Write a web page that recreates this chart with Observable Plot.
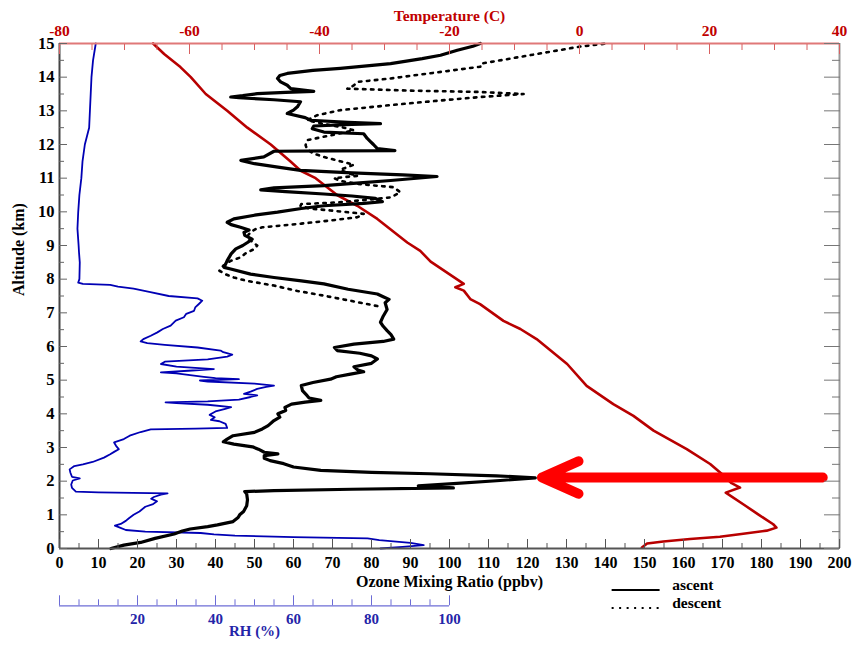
<!DOCTYPE html>
<html><head><meta charset="utf-8">
<script src="https://cdn.jsdelivr.net/npm/d3@7"></script>
<script src="https://cdn.jsdelivr.net/npm/@observablehq/plot@0.6"></script>
<style>body{margin:0;background:#fff} #chart svg{display:block}</style>
</head><body><div id="chart"></div>
<script>
// [altitude km, ozone ppbv] — ascent (solid)
const ascent = [[0.0,13.2],[0.1,16.5],[0.18,20.8],[0.3,24.5],[0.43,29.4],[0.52,31.5],[0.58,33.5],[0.65,38],[0.7,40.5],[0.8,44.5],[0.92,45.8],[1.0,46.2],[1.1,47.2],[1.27,48],[1.45,48.2],[1.62,48],[1.69,47.5],[1.72,55],[1.76,75],[1.80,101],[1.86,92],[1.92,100],[2.02,113],[2.10,122],[2.16,112],[2.22,95],[2.26,80],[2.32,67],[2.42,60],[2.52,57.5],[2.61,54],[2.68,52.5],[2.76,52.5],[2.81,56],[2.86,52.5],[2.95,51],[3.02,49.5],[3.1,44.7],[3.17,42],[3.25,43],[3.35,44.5],[3.45,50],[3.55,52],[3.65,53.5],[3.8,55],[3.9,56.5],[4.0,56],[4.1,58],[4.19,57.8],[4.29,59.5],[4.35,63],[4.40,67],[4.47,64],[4.54,63.5],[4.69,62.3],[4.84,62],[4.93,65],[5.03,69.5],[5.1,71],[5.18,74.6],[5.25,78],[5.3,76.5],[5.4,75.5],[5.5,80],[5.63,81.5],[5.72,80],[5.8,77],[5.88,71.2],[5.97,70.5],[6.07,75.5],[6.15,83],[6.22,85.7],[6.35,85],[6.47,84],[6.6,83],[6.72,82.3],[6.9,83],[7.1,84],[7.3,83.5],[7.4,84.5],[7.48,83],[7.56,81.5],[7.7,74],[7.86,67.8],[7.95,62],[8.05,55],[8.15,49],[8.3,43.9],[8.35,42.2],[8.55,43],[8.75,44],[8.9,45.2],[9.0,47],[9.09,48.2],[9.19,49.4],[9.3,47.5],[9.39,47.3],[9.46,48.6],[9.54,46.4],[9.62,44],[9.69,43],[9.79,44.7],[9.9,50],[9.99,55.9],[10.1,62],[10.18,67.8],[10.25,78],[10.3,82.8],[10.4,81],[10.47,75],[10.53,67.8],[10.6,58],[10.65,51.6],[10.71,55],[10.78,67.8],[10.86,77],[10.93,84.9],[11.05,96.8],[11.1,88],[11.16,75],[11.23,61.8],[11.33,56],[11.43,50],[11.53,46.5],[11.63,52.4],[11.8,55],[11.81,70],[11.82,86],[11.88,81.5],[12.0,80.5],[12.08,79.8],[12.18,78.9],[12.32,78],[12.37,67.8],[12.47,64.8],[12.55,65.2],[12.6,75],[12.62,82.3],[12.66,74],[12.72,64.4],[12.8,63],[12.92,58.4],[13.02,60],[13.12,61],[13.27,61.8],[13.33,55],[13.39,46],[13.41,43.9],[13.45,47],[13.51,50.7],[13.55,58],[13.58,65.2],[13.62,62],[13.66,59.3],[13.76,58.4],[13.86,56.7],[13.96,55.9],[14.05,56.5],[14.11,58.4],[14.2,65],[14.26,72],[14.4,84.9],[14.55,93],[14.65,97.7],[14.8,102],[14.92,106],[15.0,107.9]];

// [altitude km, ozone ppbv] — descent (dotted)
const descent = [[7.2,81.5],[7.35,75],[7.51,67.8],[7.65,61],[7.81,55],[7.95,48],[8.05,44.7],[8.15,42.5],[8.25,41],[8.4,42],[8.55,44],[8.65,46.5],[8.75,47.5],[8.9,50],[9.0,50.7],[9.1,49.5],[9.25,48],[9.4,49],[9.49,50.3],[9.54,52],[9.65,62],[9.75,70],[9.84,76.4],[9.94,78],[10.04,69.5],[10.1,64],[10.18,61.8],[10.23,62],[10.28,71.2],[10.36,79],[10.43,84.9],[10.58,87.4],[10.73,85.7],[10.83,76.4],[10.92,72],[11.0,70.4],[11.07,76.4],[11.15,74],[11.25,72],[11.4,75.5],[11.5,72],[11.63,67.8],[11.73,65.2],[11.85,63.5],[11.98,63.1],[12.13,63.5],[12.27,69.5],[12.42,75.5],[12.5,73],[12.57,69.5],[12.72,63.5],[12.87,66.1],[13.02,72],[13.17,84.9],[13.3,97],[13.41,107.9],[13.5,119],[13.56,108],[13.6,90],[13.66,73.8],[13.72,75],[13.76,75.5],[13.86,76.4],[13.96,84.9],[14.0,87.4],[14.31,107.9],[14.4,108],[14.6,118],[14.74,125],[14.91,133.6],[15.0,140.4]];

// [altitude km, relative humidity %]
const rh = [[0.0,82.3],[0.05,88],[0.1,93.4],[0.17,90],[0.25,82],[0.3,79],[0.34,60],[0.38,45],[0.42,39.6],[0.46,36.2],[0.5,22],[0.55,17],[0.62,15.5],[0.68,14.2],[0.73,15.7],[0.82,17],[0.9,17.8],[1.0,19],[1.1,20.5],[1.24,22],[1.32,24],[1.4,25],[1.48,23.5],[1.53,24.2],[1.6,26],[1.64,27.7],[1.67,10],[1.69,4.2],[1.8,3.2],[1.9,3.0],[2.02,3.4],[2.08,5.2],[2.13,3.2],[2.25,2.8],[2.35,2.6],[2.45,3.8],[2.5,6],[2.57,8.5],[2.7,11.4],[2.8,13],[2.87,14],[2.95,15.2],[3.05,14.5],[3.15,14],[3.25,16.5],[3.35,18],[3.46,20.8],[3.54,23.4],[3.56,35],[3.58,43],[3.7,42.6],[3.78,41],[3.82,38.8],[3.9,39.8],[3.97,38.5],[4.07,40],[4.15,42.5],[4.2,44],[4.27,38],[4.32,30],[4.34,27.2],[4.37,38],[4.42,46],[4.5,49],[4.55,50.7],[4.59,47.3],[4.66,49],[4.74,50.7],[4.8,53],[4.84,55],[4.9,50],[4.96,38],[4.99,36],[5.03,46],[5.06,40],[5.1,37],[5.2,30],[5.23,26],[5.28,33],[5.33,39.6],[5.4,30],[5.48,26],[5.55,27],[5.62,38],[5.7,43],[5.76,44.3],[5.83,42],[5.88,41.3],[5.97,35.4],[6.05,27],[6.1,22.5],[6.15,20.8],[6.22,21.5],[6.32,23.4],[6.42,25.1],[6.52,26.5],[6.62,28.5],[6.77,29.8],[6.87,31.9],[6.97,32.5],[7.06,34.5],[7.16,34.8],[7.27,35.8],[7.36,36.6],[7.43,35.4],[7.5,28],[7.62,23],[7.72,19],[7.78,15],[7.83,13],[7.86,6],[7.9,4.8],[8.0,5.1],[8.5,5.2],[8.8,5.0],[9.0,4.9],[9.5,4.6],[10.0,4.8],[10.5,5.1],[11.0,5.6],[11.5,5.9],[12.0,6.5],[12.5,7.6],[13.0,7.8],[13.5,8.0],[14.0,8.2],[14.5,8.6],[15.0,9.3]];

// [altitude km, temperature C]
const temperature = [[0.03,9.6],[0.15,10.4],[0.21,12.9],[0.28,17],[0.35,21.6],[0.43,24.9],[0.53,28.8],[0.62,30.3],[0.72,29.8],[1.0,27.6],[1.3,25.3],[1.66,22.5],[1.81,24.7],[1.94,23.4],[2.21,21.9],[2.51,20.1],[2.95,16.5],[3.5,11.4],[3.94,8.3],[4.29,5.2],[4.83,1.1],[5.48,-1.9],[6.22,-6.6],[6.52,-9.1],[6.76,-11.7],[7.26,-15.3],[7.41,-16.8],[7.66,-17.8],[7.76,-19.1],[7.86,-17.8],[8.52,-22.9],[8.84,-24.5],[9.09,-26.5],[9.79,-31.1],[10.18,-34.2],[10.5,-37.3],[11.0,-40.6],[11.22,-42.9],[11.5,-44.5],[12.0,-47.5],[12.5,-51.1],[13.0,-54.2],[13.5,-57.5],[14.0,-59.8],[14.3,-61.4],[14.69,-63.9],[15.0,-65.6]];

// annotation arrow: [from ozone, to ozone, altitude]
const arrowSpec = [{from: 195.7, to: 123.7, alt: 2.11}];

const ozoneTicks = d3.range(0, 201, 10);
const ozoneMinor = d3.range(5, 200, 10);
const altTicks = d3.range(0, 16, 1);
const altMinor = d3.range(0.5, 15, 1);
const tempTicks = [-80, -60, -40, -20, 0, 20, 40];
const tempMinor = d3.range(-75, 40, 5).filter(t => t % 20 !== 0);
const rhLabels = [20, 40, 60, 80, 100];
const rhMajor = [0, 20, 40, 60, 80, 100];
const rhMinor = d3.range(5, 100, 5).filter(v => v % 20 !== 0);

const tempToX = t => (t + 80) * 200 / 120;
const xToTemp = x => Math.round(x * 120 / 200 - 80);

const FONT = "Liberation Serif, Times New Roman, serif";
const RED = "#c00000";
const BLUE = "#0000b4";
const RHAXIS = "#6c6cd6";
const RHOFF = 57.3;

const chart = Plot.plot({
  width: 856,
  height: 646,
  marginTop: 43,
  marginLeft: 59,
  marginRight: 17,
  marginBottom: 98,
  style: {fontFamily: FONT, fontWeight: "bold", background: "#fff"},
  x: {domain: [0, 200], label: null},
  y: {domain: [0, 15], label: null},
  marks: [
    // data
    Plot.line(rh, {x: d => d[1], y: d => d[0], stroke: BLUE, strokeWidth: 1.8}),
    Plot.line(temperature, {x: d => tempToX(d[1]), y: d => d[0], stroke: "#b80000", strokeWidth: 2.6}),
    Plot.line(descent, {x: d => d[1], y: d => d[0], stroke: "black", strokeWidth: 2.6, strokeDasharray: "2.5,5.5"}),
    Plot.line(ascent, {x: d => d[1], y: d => d[0], stroke: "black", strokeWidth: 3.2}),
    Plot.arrow(arrowSpec, {x1: d => d.from, x2: d => d.to, y1: d => d.alt, y2: d => d.alt, stroke: "#ff0000", strokeWidth: 10, headLength: 6, headAngle: 48}),

    // frame
    Plot.ruleX([0], {stroke: "#444", strokeWidth: 2}),
    Plot.ruleX([200], {stroke: "#999", strokeWidth: 2}),
    Plot.ruleY([0], {stroke: "#555", strokeWidth: 2}),
    Plot.ruleY([15], {stroke: "#e07878", strokeWidth: 2}),

    // bottom ozone axis
    Plot.axisX(ozoneTicks, {anchor: "bottom", tickSize: -9, tickFormat: () => "", stroke: "#555", label: null}),
    Plot.axisX(ozoneMinor, {anchor: "bottom", tickSize: -5, tickFormat: () => "", stroke: "#555", label: null}),
    Plot.axisX(ozoneTicks, {anchor: "bottom", tickSize: 0, tickPadding: 8, fontSize: 16, fontWeight: "bold", color: "black", label: null}),
    Plot.text(["Ozone Mixing Ratio (ppbv)"], {text: d => d, frameAnchor: "bottom", dy: 38, fontSize: 16, fontWeight: "bold", fill: "black"}),

    // top temperature axis
    Plot.axisX(tempTicks.map(tempToX), {anchor: "top", tickSize: -10, tickFormat: () => "", stroke: "#d86060", label: null}),
    Plot.axisX(tempMinor.map(tempToX), {anchor: "top", tickSize: -6, tickFormat: () => "", stroke: "#d86060", label: null}),
    Plot.axisX(tempTicks.map(tempToX), {anchor: "top", tickSize: 0, tickPadding: 7.5, tickFormat: x => String(xToTemp(x)), fontSize: 15.5, fontWeight: "bold", color: RED, label: null}),
    Plot.text(["Temperature (C)"], {text: d => d, frameAnchor: "top", dy: -34, fontSize: 15.5, fontWeight: "bold", fill: RED}),

    // left altitude axis
    Plot.axisY(altTicks, {anchor: "left", tickSize: -8, tickFormat: () => "", stroke: "#666", label: null}),
    Plot.axisY(altMinor, {anchor: "left", tickSize: -5, tickFormat: () => "", stroke: "#666", label: null}),
    Plot.axisY(altTicks, {anchor: "left", tickSize: 0, tickPadding: 5, fontSize: 16.5, fontWeight: "bold", color: "black", label: null}),
    Plot.text(["Altitude (km)"], {text: d => d, frameAnchor: "left", rotate: -90, dx: -41, fontSize: 16, fontWeight: "bold", fill: "black"}),

    // right axis ticks
    Plot.axisY(altTicks, {anchor: "right", tickSize: -16, tickFormat: () => "", stroke: "#777", label: null}),
    Plot.axisY(altMinor, {anchor: "right", tickSize: -8, tickFormat: () => "", stroke: "#777", label: null}),

    // RH axis below
    Plot.ruleY([0], {x1: 0, x2: 100, dy: RHOFF, stroke: RHAXIS, strokeWidth: 1.2}),
    Plot.axisX(rhMajor, {anchor: "bottom", dy: RHOFF, tickSize: -10, tickFormat: () => "", stroke: RHAXIS, label: null}),
    Plot.axisX(rhMinor, {anchor: "bottom", dy: RHOFF, tickSize: -6, tickFormat: () => "", stroke: RHAXIS, label: null}),
    Plot.axisX(rhLabels, {anchor: "bottom", dy: RHOFF, tickSize: 0, tickPadding: 8, fontSize: 15, fontWeight: "bold", color: "#2424a8", label: null}),
    Plot.text(["RH (%)"], {text: d => d, x: 50, frameAnchor: "bottom", dy: 87.3, fontSize: 15, fontWeight: "bold", fill: "#2424a8"}),

    // legend
    Plot.ruleY([0], {x1: 141.7, x2: 154, dy: 41.6, stroke: "black", strokeWidth: 2}),
    Plot.ruleY([0], {x1: 141.7, x2: 154, dy: 59.6, stroke: "black", strokeWidth: 2, strokeDasharray: "2,5.5"}),
    Plot.text(["ascent"], {text: d => d, x: 157.1, frameAnchor: "bottom", dy: 41, textAnchor: "start", fontSize: 15.5, fontWeight: "bold", fill: "black"}),
    Plot.text(["descent"], {text: d => d, x: 157.1, frameAnchor: "bottom", dy: 59.5, textAnchor: "start", fontSize: 15.5, fontWeight: "bold", fill: "black"})
  ]
});
document.getElementById("chart").append(chart);
</script>
</body></html>
